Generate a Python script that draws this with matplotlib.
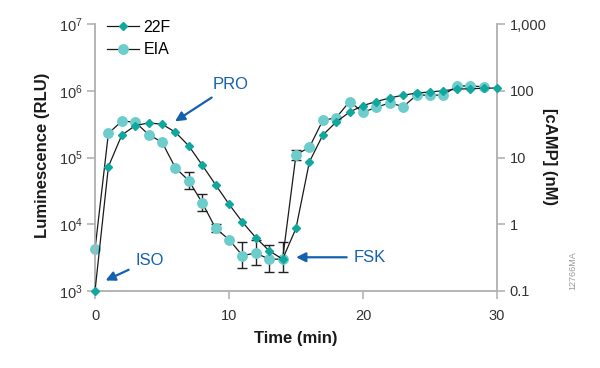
import matplotlib
matplotlib.use("Agg")
import matplotlib.pyplot as plt
from matplotlib import font_manager
from matplotlib.lines import Line2D
from matplotlib.ticker import FixedLocator, NullLocator

# narrow sans if we have it, plain Liberation otherwise
names = {f.name for f in font_manager.fontManager.ttflist}
FONT = "Liberation Sans Narrow" if "Liberation Sans Narrow" in names else "Liberation Sans"
plt.rcParams["font.family"] = [FONT, "DejaVu Sans"]
plt.rcParams["mathtext.fontset"] = "custom"
plt.rcParams["mathtext.rm"] = FONT
plt.rcParams["mathtext.it"] = FONT

# --- data ---
time_22f = list(range(0, 31))
rlu_22f = [1.0e3, 7.3e4, 2.17e5, 3.0e5, 3.3e5, 3.15e5, 2.4e5, 1.49e5, 7.7e4, 3.9e4,
           2.0e4, 1.08e4, 6.3e3, 4.0e3, 3.0e3, 8.7e3, 8.6e4, 2.17e5, 3.4e5, 4.8e5,
           6.0e5, 6.9e5, 7.8e5, 8.6e5, 9.2e5, 9.6e5, 1.0e6, 1.06e6, 1.07e6, 1.09e6, 1.1e6]

time_eia = list(range(0, 30))
camp_eia = [0.42, 23, 35, 34, 22, 17, 7.0, 4.5, 2.1, 0.87,
            0.59, 0.34, 0.37, 0.30, 0.30, 11, 14.2, 36, 39.5, 69,
            47.5, 56.5, 66, 57.7, 86, 86, 86, 118, 118, 115]

# EIA error bars (time, low, high) in nM
err_time = [7, 8, 9, 11, 12, 13, 14, 15]
err_low = [3.34, 1.58, 0.77, 0.223, 0.245, 0.19, 0.19, 9.2]
err_high = [6.07, 2.87, 1.0, 0.54, 0.58, 0.49, 0.55, 12.9]

rlu_ticks = [1e3, 1e4, 1e5, 1e6, 1e7]
rlu_labels = ["$10^3$", "$10^4$", "$10^5$", "$10^6$", "$10^7$"]
camp_ticks = [0.1, 1, 10, 100, 1000]
camp_labels = ["0.1", "1", "10", "100", "1,000"]
time_ticks = [0, 10, 20, 30]

C_22F = "#10a89e"
C_EIA = "#6dcdcc"
GREY = "#b4b4b4"
BLUE = "#1461b0"
TXT = "#333333"
INK = "#1a1a1a"

fig = plt.figure(figsize=(6, 3.68), dpi=100)
ax = fig.add_axes([95 / 600, 77 / 368, 402 / 600, 267 / 368])
ax2 = ax.twinx()
# 22F sits on top of the EIA circles
ax.set_zorder(ax2.get_zorder() + 1)
ax.patch.set_visible(False)

for a, ticks, labels in ((ax, rlu_ticks, rlu_labels), (ax2, camp_ticks, camp_labels)):
    a.set_yscale("log")
    a.set_ylim(ticks[0], ticks[-1])
    a.yaxis.set_major_locator(FixedLocator(ticks))
    a.yaxis.set_minor_locator(NullLocator())
    a.set_yticklabels(labels)
    a.spines["top"].set_visible(False)
    for s in ("left", "right", "bottom"):
        a.spines[s].set_color(GREY)
        a.spines[s].set_linewidth(1.2)
    a.tick_params(axis="both", which="major", length=6, width=1.2, color=GREY,
                  labelcolor=TXT, labelsize=10.5, pad=3)

ax.set_xlim(0, 30)
ax.set_xticks(time_ticks)
ax.tick_params(axis="x", pad=7)

# EIA on the cAMP axis
ax2.errorbar(err_time, [camp_eia[t] for t in err_time],
             yerr=[[camp_eia[t] - lo for t, lo in zip(err_time, err_low)],
                   [hi - camp_eia[t] for t, hi in zip(err_time, err_high)]],
             fmt="none", ecolor="#222222", elinewidth=1, capsize=3.5, capthick=1,
             zorder=2, clip_on=False)
ax2.plot(time_eia, camp_eia, color=INK, lw=0.9, marker="o", ms=6.8,
         mfc=C_EIA, mec=C_EIA, zorder=3, clip_on=False)

# 22F on the luminescence axis
ax.plot(time_22f, rlu_22f, color=INK, lw=0.9, marker="D", ms=4.2,
        mfc=C_22F, mec=C_22F, zorder=4, clip_on=False)

lab_font = dict(fontsize=12, fontweight="bold", color=INK)
ax.set_xlabel("Time (min)", labelpad=6, **lab_font)
fig.text(43 / 600, 1 - 155 / 368, "Luminescence (RLU)", rotation=90,
         ha="center", va="center", **lab_font)
fig.text(549 / 600, 1 - 157 / 368, "[cAMP] (nM)", rotation=-90,
         ha="center", va="center", **lab_font)

handles = [
    Line2D([], [], color=INK, lw=0.9, marker="D", ms=4.2, mfc=C_22F, mec=C_22F),
    Line2D([], [], color=INK, lw=0.9, marker="o", ms=6.8, mfc=C_EIA, mec=C_EIA),
]
ax.legend(handles, ["22F", "EIA"], loc="upper left", bbox_to_anchor=(0.01, 1.045),
          frameon=False, fontsize=11.5, handlelength=2.0, handletextpad=0.3,
          labelspacing=0.45, borderpad=0)

# treatment annotations
arrow = dict(arrowstyle="-|>", color=BLUE, lw=1.6, mutation_scale=14,
             shrinkA=3, shrinkB=2)
ax.annotate("PRO", xy=(5.8, 3.3e5), xytext=(8.8, 1.22e6), color=BLUE, fontsize=12,
            ha="left", va="center", arrowprops=arrow)
ax.annotate("ISO", xy=(0.6, 1.38e3), xytext=(3.0, 2.9e3), color=BLUE, fontsize=12,
            ha="left", va="center", arrowprops=arrow)
ax.annotate("FSK", xy=(14.8, 3.2e3), xytext=(19.3, 3.2e3), color=BLUE, fontsize=12,
            ha="left", va="center", arrowprops=arrow)

fig.text(573 / 600, 1 - 271 / 368, "12766MA", rotation=90, fontsize=6.5,
         color="#999999", ha="center", va="center")

fig.savefig("out.png", dpi=100)
